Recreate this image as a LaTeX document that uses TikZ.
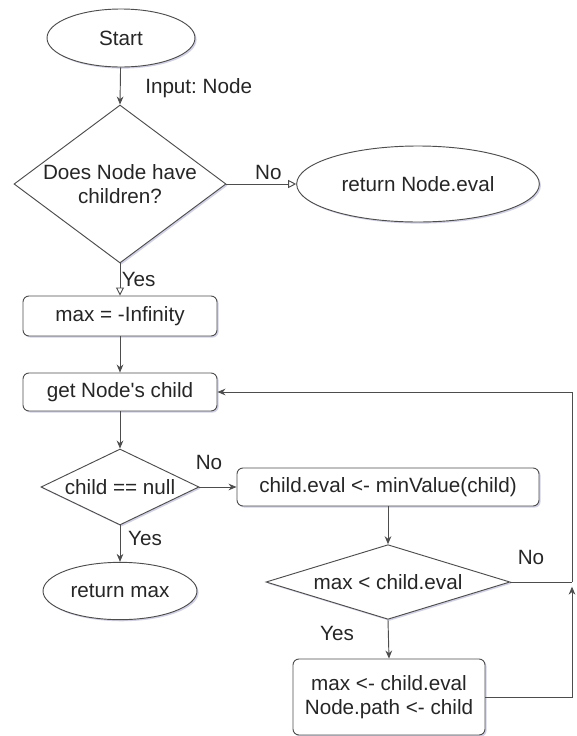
\documentclass[tikz,border=0pt]{standalone}
\usepackage{fontspec}
\newfontfamily\mainf{Liberation Sans}
\usetikzlibrary{shapes.geometric,arrows.meta,shadows}
\definecolor{linec}{HTML}{4D4D4D}
\tikzset{
  base/.style={draw=linec, line width=0.7pt, fill=white, text=black!85,
    font=\mainf\frenchspacing\fontsize{15.5}{18.5}\selectfont, align=center, inner sep=0pt,
    drop shadow={shadow xshift=1.2pt, shadow yshift=-1.2pt, opacity=0.18, fill=blue!40!black}},
  term/.style={base, ellipse},
  proc/.style={base, rectangle, rounded corners=4.5pt},
  decide/.style={base, diamond},
  lbl/.style={font=\mainf\frenchspacing\fontsize{15.5}{18.5}\selectfont, text=black!85, inner sep=0pt},
  arr/.style={draw=linec, line width=0.7pt, -{Stealth[length=6pt,width=5pt]}},
  oarr/.style={draw=linec, line width=0.7pt, -{Triangle[open,length=6pt,width=6pt]}},
  ln/.style={draw=linec, line width=0.7pt},
}
\begin{document}
\begin{tikzpicture}[x=0.75pt,y=-0.75pt]
\useasboundingbox (0,0) rectangle (576,736);
% nodes
\node[term, minimum width=111pt, minimum height=43.5pt] (start) at (121,38) {Start};
\node[decide, minimum width=159pt, minimum height=118.5pt,
  label={[lbl,align=center]center:Does Node have\\children?}] (d1) at (120,184) {};
\node[term, minimum width=182pt, minimum height=57pt] (reval) at (418,184) {return Node.eval};
\node[proc, minimum width=145.5pt, minimum height=30pt] (maxinf) at (120,316) {max = -Infinity};
\node[proc, minimum width=145.5pt, minimum height=28.5pt] (getc) at (120,392) {get Node's child};
\node[decide, minimum width=118.5pt, minimum height=57pt,
  label={[lbl]center:child == null}] (d2) at (120,487) {};
\node[term, minimum width=115.5pt, minimum height=43pt] (rmax) at (120,591) {return max};
\node[proc, minimum width=226.5pt, minimum height=28.5pt] (ceval) at (388,487) {child.eval <- minValue(child)};
\node[decide, minimum width=183pt, minimum height=56pt,
  label={[lbl]center:max < child.eval}] (d3) at (388,582) {};
\node[proc, minimum width=144pt, minimum height=57pt] (upd) at (389,697) {max <- child.eval\\Node.path <- child};
\coordinate (cr1) at (572,582);
\coordinate (cr2) at (572,392);
\coordinate (cr3) at (572,697);
% connectors
\draw[arr] (start) -- (d1.north);
\node[lbl, anchor=west] (inlbl) at (145,88) {Input: Node};
\draw[oarr] (d1.east) -- node[lbl, above=3pt, pos=0.6] (no1) {No} (reval.west);
\draw[oarr] (d1.south) -- node[lbl, right=1pt, pos=0.5] (yes1) {Yes} (maxinf.north);
\draw[arr] (maxinf) -- (getc);
\draw[arr] (getc) -- (d2.north);
\draw[arr] (d2.east) -- (ceval.west);
\node[lbl] (no2) at (209,462) {No};
\draw[arr] (d2.south) -- (rmax.north);
\node[lbl] (yes2) at (145,538) {Yes};
\draw[arr] (ceval) -- (d3.north);
\draw[ln] (d3.east) -- (cr1);
\draw[arr] (cr1) -- (cr2) -- (getc.east);
\node[lbl] (no3) at (531,557) {No};
\draw[arr] (d3.south) -- (upd.north);
\node[lbl] (yes3) at (337,633) {Yes};
\draw[arr] (upd.east) -- (cr3) -- ([yshift=-3.5pt]cr1);
\end{tikzpicture}
\end{document}
